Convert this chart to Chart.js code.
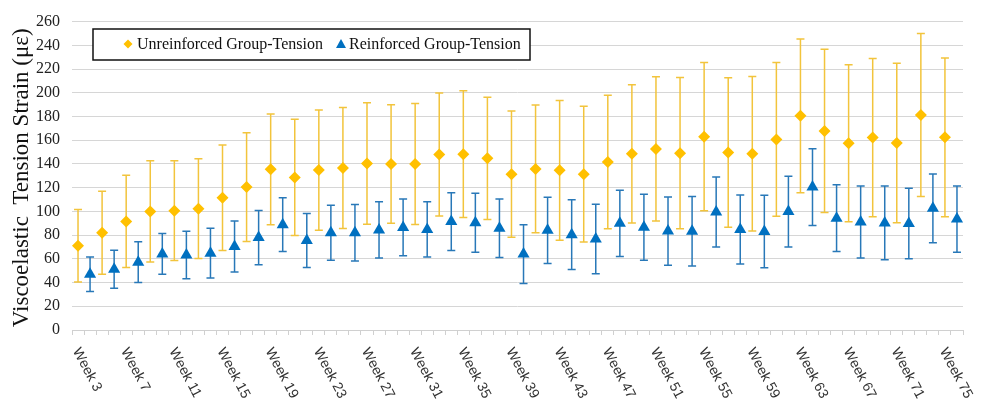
<!DOCTYPE html>
<html>
<head>
<meta charset="utf-8">
<script src="https://cdn.jsdelivr.net/npm/chart.js@4.4.1/dist/chart.umd.min.js"></script>
<style>
  html, body { margin: 0; padding: 0; background: #fff; }
  #wrap { width: 981px; height: 410px; position: relative; }
</style>
</head>
<body>
<div id="wrap"><canvas id="strainChart" width="981" height="410"></canvas></div>
<script>
// one category slot per week, like the original spreadsheet axis
const weeks = [];
for (let w = 3; w <= 76; w++) weeks.push("Week " + w);

const tickLabels = [
  "Week 3", "Week 7", "Week 11", "Week 15", "Week 19", "Week 23", "Week 27",
  "Week 31", "Week 35", "Week 39", "Week 43", "Week 47", "Week 51", "Week 55",
  "Week 59", "Week 63", "Week 67", "Week 71", "Week 75",
];

// unreinforced sits on odd weeks, reinforced on the slot right after
const unreinforcedWeeks = weeks.filter((w, i) => i % 2 === 0);
const reinforcedWeeks = weeks.filter((w, i) => i % 2 === 1);

const unreinforcedMean = [
  71, 82, 91.5, 100, 100.6, 102.3, 111.5, 120.5, 135.5, 128.6, 134.8, 136.5,
  140.4, 140, 140, 148, 148.2, 144.7, 131.4, 135.8, 134.6, 131.4, 141.7, 148.5,
  152.6, 149.1, 163, 149.6, 148.6, 160.7, 180.6, 167.8, 157.5, 162.2, 157.6,
  181.3, 162.4,
];
const unreinforcedSd = [
  30.6, 35, 38.9, 42.7, 42, 42, 44.5, 45.8, 46.7, 49, 50.7, 51,
  51.2, 50, 51, 51.9, 53.4, 51.6, 53.2, 53.8, 58.9, 57.3, 56.3, 58.2,
  60.8, 63.8, 62.5, 63, 65.1, 64.8, 64.8, 68.8, 66.2, 66.7, 67.2, 68.7, 67,
];
const reinforcedMean = [
  47, 51.3, 57.2, 64.1, 63.3, 64.8, 70.3, 77.9, 88.8, 75.5, 81.9, 82,
  84.4, 86.5, 84.8, 91.4, 90.4, 85.8, 64, 84, 80.4, 76.7, 89.9, 86.6,
  83.4, 83.3, 99.5, 84.8, 83, 99.8, 120.5, 94.3, 91, 90.3, 89.8, 102.6, 93.5,
];
const reinforcedSd = [
  14.5, 16, 17.2, 17.2, 20, 21, 21.5, 22.8, 22.6, 22.8, 23.2, 23.9,
  23.7, 23.9, 23.3, 24.4, 24.8, 24.6, 24.8, 27.9, 29.4, 29.3, 27.9, 27.9,
  28.8, 29.3, 29.5, 29.1, 30.6, 29.8, 32.3, 28.1, 30.3, 31, 29.7, 29, 27.9,
];

const yTicks = { min: 0, max: 260, step: 20 };
const yTitle = "Viscoelastic  Tension Strain (\u03bc\u03b5)";

const SERIF = "'Liberation Serif', 'Times New Roman', serif";
const SANS = "'Liberation Sans', Arial, sans-serif";

function toPoints(cats, values) {
  return cats.map((c, i) => ({ x: c, y: values[i] }));
}

// vertical error bars with caps, drawn under the markers
const errorBars = {
  id: "errorBars",
  beforeDatasetsDraw(chart) {
    const ctx = chart.ctx;
    const yScale = chart.scales.y;
    chart.data.datasets.forEach((ds, i) => {
      const meta = chart.getDatasetMeta(i);
      ctx.save();
      ctx.strokeStyle = ds.errorColor;
      ctx.lineWidth = 1.5;
      meta.data.forEach((pt, j) => {
        const v = ds.data[j].y;
        const e = ds.errors[j];
        const top = yScale.getPixelForValue(v + e);
        const bot = yScale.getPixelForValue(v - e);
        ctx.beginPath();
        ctx.moveTo(pt.x, top);
        ctx.lineTo(pt.x, bot);
        ctx.moveTo(pt.x - 4, top);
        ctx.lineTo(pt.x + 4, top);
        ctx.moveTo(pt.x - 4, bot);
        ctx.lineTo(pt.x + 4, bot);
        ctx.stroke();
      });
      ctx.restore();
    });
  },
};

// labels slanting down to the right, every fourth week, plus the y title
const axisText = {
  id: "axisText",
  afterDraw(chart) {
    const ctx = chart.ctx;
    const xScale = chart.scales.x;
    const yScale = chart.scales.y;
    ctx.save();
    ctx.font = "14px " + SANS;
    ctx.fillStyle = "#333";
    ctx.textAlign = "left";
    ctx.textBaseline = "middle";
    tickLabels.forEach((lbl) => {
      const x = xScale.getPixelForValue(weeks.indexOf(lbl));
      ctx.save();
      ctx.translate(x - 2, xScale.top + 19);
      ctx.rotate((62 * Math.PI) / 180);
      ctx.fillText(lbl, 0, 0);
      ctx.restore();
    });

    ctx.font = "23px " + SERIF;
    ctx.fillStyle = "#111";
    ctx.textAlign = "center";
    ctx.textBaseline = "middle";
    ctx.translate(22, (yScale.top + yScale.bottom) / 2 + 2);
    ctx.rotate(-Math.PI / 2);
    ctx.fillText(yTitle, 0, 0);
    ctx.restore();
  },
};

// boxed legend inside the plot area
const boxLegend = {
  id: "boxLegend",
  afterDraw(chart) {
    const ctx = chart.ctx;
    ctx.save();
    ctx.fillStyle = "#fff";
    ctx.fillRect(93, 29, 437, 31);
    ctx.strokeStyle = "#111";
    ctx.lineWidth = 1.5;
    ctx.strokeRect(93, 29, 437, 31);

    ctx.font = "16px " + SERIF;
    ctx.textBaseline = "middle";
    ctx.textAlign = "left";

    // diamond
    ctx.fillStyle = "#FFC000";
    ctx.beginPath();
    ctx.moveTo(128, 39.5);
    ctx.lineTo(132.5, 44);
    ctx.lineTo(128, 48.5);
    ctx.lineTo(123.5, 44);
    ctx.closePath();
    ctx.fill();
    ctx.fillStyle = "#111";
    ctx.fillText("Unreinforced Group-Tension", 137, 45);

    // triangle
    ctx.fillStyle = "#0070C0";
    ctx.beginPath();
    ctx.moveTo(341, 39);
    ctx.lineTo(346, 48);
    ctx.lineTo(336, 48);
    ctx.closePath();
    ctx.fill();
    ctx.fillStyle = "#111";
    ctx.fillText("Reinforced Group-Tension", 349, 45);
    ctx.restore();
  },
};

const chart = new Chart(document.getElementById("strainChart"), {
  type: "line",
  data: {
    labels: weeks,
    datasets: [
      {
        label: "Unreinforced Group-Tension",
        data: toPoints(unreinforcedWeeks, unreinforcedMean),
        errors: unreinforcedSd,
        errorColor: "#F2C43C",
        showLine: false,
        pointStyle: "rectRot",
        pointRadius: 6,
        pointBackgroundColor: "#FFC000",
        pointBorderColor: "#FFC000",
        pointBorderWidth: 0,
      },
      {
        label: "Reinforced Group-Tension",
        data: toPoints(reinforcedWeeks, reinforcedMean),
        errors: reinforcedSd,
        errorColor: "#2878B8",
        showLine: false,
        pointStyle: "triangle",
        pointRadius: 7,
        pointBackgroundColor: "#0070C0",
        pointBorderColor: "#0070C0",
        pointBorderWidth: 0,
      },
    ],
  },
  options: {
    responsive: false,
    animation: false,
    layout: { padding: { top: 15, right: 18, left: 0, bottom: 0 } },
    plugins: {
      legend: { display: false },
      tooltip: { enabled: false },
    },
    scales: {
      x: {
        type: "category",
        offset: true,
        border: { display: true, color: "#d0d0d0" },
        grid: {
          display: true,
          drawOnChartArea: false,
          drawTicks: true,
          tickLength: 5,
          offset: true,
          color: "#d0d0d0",
        },
        ticks: { display: false, autoSkip: false },
        afterFit: (s) => { s.height = 80; },
      },
      y: {
        min: yTicks.min,
        max: yTicks.max,
        border: { display: false },
        grid: { color: "#d6d6d6", drawTicks: false },
        ticks: {
          stepSize: yTicks.step,
          padding: 12,
          color: "#222",
          font: { family: SERIF, size: 16 },
        },
        afterFit: (s) => { s.width = 72; },
      },
    },
  },
  plugins: [errorBars, axisText, boxLegend],
});
</script>
</body>
</html>
